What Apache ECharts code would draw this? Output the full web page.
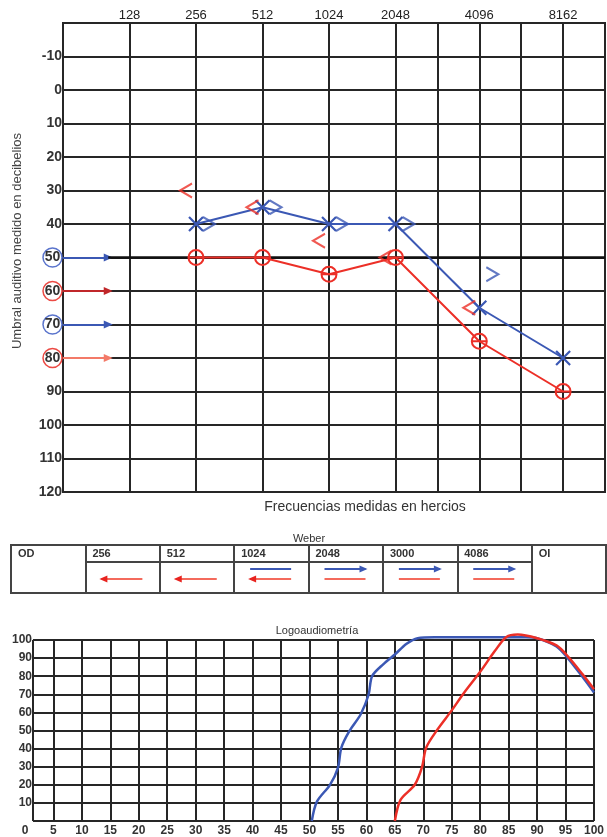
<!DOCTYPE html>
<html><head><meta charset="utf-8">
<script src="https://cdn.jsdelivr.net/npm/echarts@6/dist/echarts.min.js"></script>
<style>html,body{margin:0;padding:0;background:#fff}#c{width:607px;height:837px}</style>
</head><body><div id="c"></div>
<script>
// ===== Audiogram data =====
const freqLabels = ['128', '256', '512', '1024', '2048', '4096', '8162'];
const freqPos = [1, 2, 3, 4, 5, 6.26, 7.52];              // axis position of each labelled frequency
const gridLinePos = [1, 2, 3, 4, 5, 5.63, 6.26, 6.89, 7.52]; // vertical grid lines (incl. half octaves)
const xMaxPos = 8.15;
const airFreqs = ['256', '512', '1024', '2048', '4096', '8162'];
const leftAirDb = [40, 35, 40, 40, 65, 80];    // blue X
const rightAirDb = [50, 50, 55, 50, 75, 90];   // red O
const boneFreqs = ['256', '512', '1024', '2048', '4096'];
const leftBoneDb = [40, 35, 40, 40, 55];       // blue >
const rightBoneDb = [30, 35, 45, 50, 65];      // red <
const maskLevels = [50, 60, 70, 80];
const maskEar = ['left', 'right', 'left', 'right'];
const maskArrowEnd = 0.68;

// ===== Weber data =====
const weberCols = ['OD', '256', '512', '1024', '2048', '3000', '4086', 'OI'];
const weberBlue = ['', '', '', 'line', 'right', 'right', 'right', ''];
const weberRed = ['', 'left', 'left', 'left', 'line', 'line', 'line', ''];

// ===== Logoaudiometria data =====
const logoBlueX = [50.4, 51.3, 53.6, 55, 55.6, 57, 59, 60.4, 61, 63, 65, 67, 69, 72, 80, 88, 90, 93.4, 95.4, 98, 100];
const logoBlueY = [0, 10.7, 20, 29.4, 40.5, 49.6, 59, 70, 80, 86.7, 92, 97.8, 101, 101.5, 101.5, 101.5, 101, 96.5, 90, 79.5, 71];
const logoRedX = [65, 66, 68.5, 69.8, 70.5, 72.5, 74.9, 77.2, 79.9, 82.6, 84.6, 86.6, 90, 93.4, 95.4, 98, 100];
const logoRedY = [0, 11.7, 20, 30, 40.5, 50.6, 60.7, 71, 82, 94, 101.7, 103, 101, 97, 91, 81, 72.8];
const logoYTicks = [0, 10, 20, 30, 40, 50, 60, 70, 80, 90, 100];
const logoLeftEdge = 1.4;

// ===== styles =====
const FONT = '"Liberation Sans", Arial, sans-serif';
const BLUE = '#3b58b4';
const RED = '#ec2f27';
const GRID = '#262626';
const posOf = f => freqPos[freqLabels.indexOf(f)];
const pairs = (fs, vs) => fs.map((f, i) => [posOf(f), vs[i]]);

const SYM_X = 'path://M0,0L10,10M10,0L0,10';
const SYM_O = 'path://M0,5A5,5,0,1,1,10,5A5,5,0,1,1,0,5ZM0,5L10,5';
const SYM_LT = 'path://M10,0L0,5L10,10';
const SYM_GT = 'path://M0,0L10,5L0,10';

function arrow(children, x1, x2, y, dir, lineColor, headColor) {
  children.push({type: 'line', shape: {x1: x1, y1: y, x2: x2, y2: y}, style: {stroke: lineColor, lineWidth: 2}});
  if (dir === 'left') {
    children.push({type: 'polygon', shape: {points: [[x1 - 2, y], [x1 + 6, y - 3.5], [x1 + 6, y + 3.5]]}, style: {fill: headColor}});
  } else if (dir === 'right') {
    children.push({type: 'polygon', shape: {points: [[x2 + 2, y], [x2 - 6, y - 3.5], [x2 - 6, y + 3.5]]}, style: {fill: headColor}});
  }
}

function weberItem(params, api) {
  const i = api.value(0);
  const c = api.coord([i, 0]);
  const w = api.size([1, 0])[0];
  const x0 = c[0] - w / 2;
  const top = c[1];
  const children = [];
  children.push({type: 'text', style: {text: weberCols[i], x: x0 + 7, y: top + 3, font: 'bold 11px ' + FONT, fill: '#333'}});
  const isEar = (i === 0 || i === weberCols.length - 1);
  if (!isEar) {
    const yd = api.coord([i, 17])[1];
    children.push({type: 'line', shape: {x1: x0, y1: yd, x2: x0 + w, y2: yd}, style: {stroke: '#444', lineWidth: 2}});
    const yb = api.coord([i, 24])[1];
    const yr = api.coord([i, 34])[1];
    const xa = x0 + 16, xb = x0 + 57;
    if (weberBlue[i]) arrow(children, xa, xb, yb, weberBlue[i], BLUE, BLUE);
    if (weberRed[i]) arrow(children, xa, xb, yr, weberRed[i], '#f46a5c', '#e8231f');
  }
  return {type: 'group', children: children};
}

const chart = echarts.init(document.getElementById('c'));
chart.setOption({
  animation: false,
  backgroundColor: '#fff',
  grid: [
    {left: 63, top: 23, width: 542, height: 469, show: true, borderColor: GRID, borderWidth: 2},
    {left: 11, top: 545, right: 1, height: 48, show: true, borderColor: '#444', borderWidth: 2},
    {left: 25, top: 640, right: 6, height: 181}
  ],
  xAxis: [
    {
      type: 'value', gridIndex: 0, min: 0, max: xMaxPos, position: 'top',
      axisLine: {show: false},
      axisTick: {show: false, customValues: gridLinePos},
      axisLabel: {customValues: freqPos, formatter: v => freqLabels[freqPos.indexOf(v)] || '',
        margin: 1, fontSize: 13, fontFamily: FONT, color: '#222'},
      splitLine: {show: true, customValues: gridLinePos, lineStyle: {color: GRID, width: 2}}
    },
    {
      type: 'category', gridIndex: 1, data: weberCols,
      axisLine: {show: false}, axisTick: {show: false}, axisLabel: {show: false},
      splitLine: {show: true, interval: 0, lineStyle: {color: '#444', width: 2}}
    },
    {
      type: 'value', gridIndex: 2, min: 0, max: 100, interval: 5,
      axisLine: {show: false}, axisTick: {show: false},
      axisLabel: {margin: 4, fontSize: 12, fontWeight: 'bold', fontFamily: FONT, color: '#333'},
      splitLine: {show: true, showMinLine: false, lineStyle: {color: GRID, width: 2}}
    }
  ],
  yAxis: [
    {
      type: 'value', gridIndex: 0, inverse: true, min: -20, max: 120, interval: 10,
      axisLine: {show: true, lineStyle: {color: GRID, width: 2}},
      axisTick: {show: false},
      splitLine: {show: true, lineStyle: {color: GRID, width: 2}},
      axisLabel: {
        margin: 1, fontSize: 14, fontWeight: 'bold', fontFamily: FONT, color: '#333',
        formatter: v => {
          if (v === -20) return '';
          const k = maskLevels.indexOf(v);
          if (k >= 0) return '{' + (maskEar[k] === 'left' ? 'b' : 'r') + '|' + v + '}';
          return String(v);
        },
        rich: {
          b: {fontSize: 14, fontWeight: 'bold', fontFamily: FONT, color: '#333', width: 19, height: 19, align: 'center',
              borderColor: '#5a74cc', borderWidth: 1.5, borderRadius: 11},
          r: {fontSize: 14, fontWeight: 'bold', fontFamily: FONT, color: '#333', width: 19, height: 19, align: 'center',
              borderColor: '#ec4a44', borderWidth: 1.5, borderRadius: 11}
        }
      }
    },
    {
      type: 'value', gridIndex: 1, min: 0, max: 48, inverse: true,
      axisLine: {show: false}, axisTick: {show: false}, axisLabel: {show: false}, splitLine: {show: false}
    },
    {
      type: 'value', gridIndex: 2, min: 0, max: 100, interval: 10,
      axisLine: {show: false}, axisTick: {show: false}, splitLine: {show: false},
      axisLabel: {margin: -7, fontSize: 12, fontWeight: 'bold', fontFamily: FONT, color: '#333',
        formatter: v => v === 0 ? '' : String(v)}
    }
  ],
  series: [
    // masking arrows + bold 50 line
    {
      type: 'line', xAxisIndex: 0, yAxisIndex: 0, data: [], z: 4,
      markLine: {
        silent: true, z: 6, symbol: ['none', 'triangle'], symbolSize: [8, 9], label: {show: false},
        data: maskLevels.map((lv, k) => [
          {coord: [0, lv], lineStyle: {color: maskEar[k] === 'left' ? BLUE : (k === 1 ? '#c0272a' : '#f37a68'), width: 2, type: 'solid'},
           itemStyle: {color: maskEar[k] === 'left' ? BLUE : RED}},
          {coord: [maskArrowEnd, lv]}
        ]).concat([[
          {coord: [maskArrowEnd, maskLevels[0]], symbol: 'none', lineStyle: {color: '#111', width: 2.5, type: 'solid'}},
          {coord: [xMaxPos, maskLevels[0]], symbol: 'none'}
        ]])
      }
    },
    {
      name: 'OI vía aérea', type: 'line', xAxisIndex: 0, yAxisIndex: 0, z: 10,
      data: pairs(airFreqs, leftAirDb),
      symbol: SYM_X, symbolSize: 14,
      itemStyle: {color: 'rgba(0,0,0,0)', borderColor: BLUE, borderWidth: 2.2},
      lineStyle: {color: BLUE, width: 2}
    },
    {
      name: 'OD vía aérea', type: 'line', xAxisIndex: 0, yAxisIndex: 0, z: 10,
      data: pairs(airFreqs, rightAirDb),
      symbol: SYM_O, symbolSize: 15,
      itemStyle: {color: 'rgba(0,0,0,0)', borderColor: RED, borderWidth: 2},
      lineStyle: {color: RED, width: 2}
    },
    {
      name: 'OI vía ósea', type: 'scatter', xAxisIndex: 0, yAxisIndex: 0, z: 10,
      data: pairs(boneFreqs, leftBoneDb),
      symbol: SYM_GT, symbolSize: [12, 14], symbolOffset: [13, 0],
      itemStyle: {color: 'rgba(0,0,0,0)', borderColor: BLUE, borderWidth: 2}
    },
    {
      name: 'OD vía ósea', type: 'scatter', xAxisIndex: 0, yAxisIndex: 0, z: 10,
      data: pairs(boneFreqs, rightBoneDb),
      symbol: SYM_LT, symbolSize: [12, 14], symbolOffset: [-10, 0],
      itemStyle: {color: 'rgba(0,0,0,0)', borderColor: RED, borderWidth: 2}
    },
    // Weber table
    {
      type: 'custom', xAxisIndex: 1, yAxisIndex: 1, z: 10,
      data: weberCols.map((c, i) => [i]),
      renderItem: weberItem
    },
    // Logoaudiometria frame lines
    {
      type: 'line', xAxisIndex: 2, yAxisIndex: 2, data: [], z: 2,
      markLine: {
        silent: true, z: 2, symbol: 'none', label: {show: false},
        lineStyle: {color: GRID, width: 2, type: 'solid'},
        data: logoYTicks.map(v => [{coord: [logoLeftEdge, v]}, {coord: [100, v]}])
          .concat([[{coord: [logoLeftEdge, 0]}, {coord: [logoLeftEdge, 100]}]])
      }
    },
    {
      name: 'OI logo', type: 'line', xAxisIndex: 2, yAxisIndex: 2, z: 10, clip: false,
      data: logoBlueX.map((x, i) => [x, logoBlueY[i]]), smooth: 0.3, symbol: 'none',
      lineStyle: {color: BLUE, width: 2.5}
    },
    {
      name: 'OD logo', type: 'line', xAxisIndex: 2, yAxisIndex: 2, z: 11, clip: false,
      data: logoRedX.map((x, i) => [x, logoRedY[i]]), smooth: 0.3, symbol: 'none',
      lineStyle: {color: RED, width: 2.5}
    }
  ],
  graphic: [
    {type: 'text', x: 17, y: 241, rotation: Math.PI / 2,
     style: {text: 'Umbral auditivo medido en decibelios', textAlign: 'center', textVerticalAlign: 'middle', font: '13px ' + FONT, fill: '#444'}},
    {type: 'text', x: 365, y: 507,
     style: {text: 'Frecuencias medidas en hercios', textAlign: 'center', textVerticalAlign: 'middle', font: '14px ' + FONT, fill: '#333'}},
    {type: 'text', x: 309, y: 539,
     style: {text: 'Weber', textAlign: 'center', textVerticalAlign: 'middle', font: '11px ' + FONT, fill: '#333'}},
    {type: 'text', x: 317, y: 631,
     style: {text: 'Logoaudiometría', textAlign: 'center', textVerticalAlign: 'middle', font: '11px ' + FONT, fill: '#333'}}
  ]
});
</script>
</body></html>
